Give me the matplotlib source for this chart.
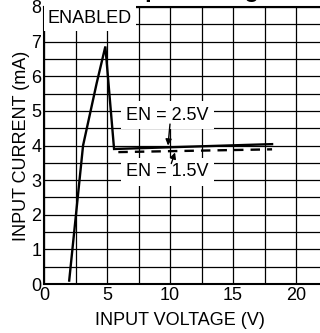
import matplotlib.pyplot as plt
from matplotlib.ticker import MultipleLocator

plt.rcParams['font.family'] = ['Liberation Sans', 'DejaVu Sans']

# EN = 2.5V curve (solid)
v_en25 = [2.0, 3.1, 4.18, 4.87, 5.56, 18.1]
i_en25 = [0.1, 4.0, 5.8, 6.86, 3.9, 4.04]

# EN = 1.5V curve (dashed)
v_en15 = [5.9, 18.1]
i_en15 = [3.81, 3.89]

fig = plt.figure(figsize=(3.2, 3.33), dpi=100)
ax = fig.add_axes([0.1375, 0.147, 0.886, 0.832])

ax.plot(v_en25, i_en25, color='black', lw=1.7, solid_joinstyle='miter', zorder=3)
ax.plot(v_en15, i_en15, color='black', lw=1.7, dashes=(4, 3), zorder=3)

ax.set_xlim(0, 22.5)
ax.set_ylim(0, 8)
ax.xaxis.set_major_locator(MultipleLocator(5))
ax.xaxis.set_minor_locator(MultipleLocator(2.5))
ax.yaxis.set_major_locator(MultipleLocator(1))
ax.yaxis.set_minor_locator(MultipleLocator(0.5))
ax.grid(which='both', color='black', lw=0.9)
ax.tick_params(which='both', length=0, labelsize=13, pad=2)
for side in ['left', 'bottom', 'top']:
    ax.spines[side].set_linewidth(1.5)

ax.set_xlabel('INPUT VOLTAGE (V)', fontsize=13, labelpad=1)
ax.set_ylabel('INPUT CURRENT (mA)', fontsize=13, labelpad=1)
ax.xaxis.set_label_coords(0.48, -0.1)

ax.text(3.65, 7.68, 'ENABLED', fontsize=13, ha='center', va='center',
        bbox=dict(facecolor='white', edgecolor='none', pad=3), zorder=4)
ax.text(9.8, 4.88, 'EN = 2.5V', fontsize=13, ha='center', va='center',
        bbox=dict(facecolor='white', edgecolor='none', pad=4), zorder=4)
ax.text(9.8, 3.24, 'EN = 1.5V', fontsize=13, ha='center', va='center',
        bbox=dict(facecolor='white', edgecolor='none', pad=4), zorder=4)

arrow = dict(arrowstyle='-|>', color='black', lw=1.0, mutation_scale=9,
             shrinkA=0, shrinkB=0)
ax.annotate('', xy=(9.84, 4.0), xytext=(10.0, 4.62), arrowprops=arrow, zorder=5)
ax.annotate('', xy=(10.4, 3.8), xytext=(10.1, 3.48), arrowprops=arrow, zorder=5)

# title sits above the top edge, only its descenders show
fig.text(0.62, 1.008, 'Input Voltage', fontsize=17, fontweight='bold',
         ha='center', va='baseline')

fig.savefig('out.png', dpi=100)
